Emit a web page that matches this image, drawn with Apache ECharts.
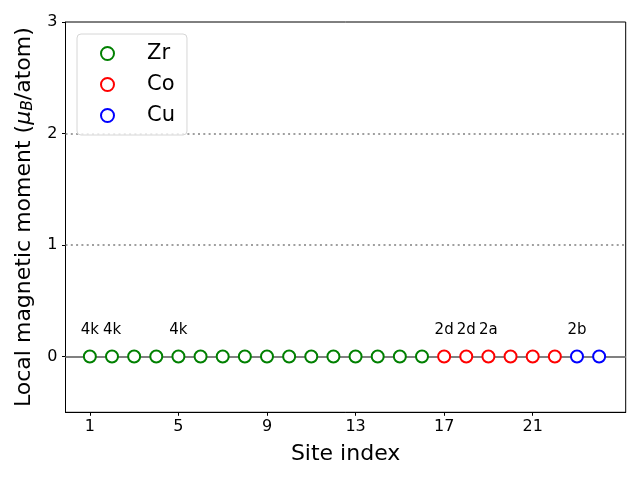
<!DOCTYPE html>
<html>
<head>
<meta charset="utf-8">
<script src="https://cdn.jsdelivr.net/npm/echarts@6/dist/echarts.min.js"></script>
<style>
html,body{margin:0;padding:0;background:#fff;}
#main{width:640px;height:480px;}
</style>
</head>
<body>
<div id="main"></div>
<script>
// ---- data ----
const zrSites = [1, 2, 3, 4, 5, 6, 7, 8, 9, 10, 11, 12, 13, 14, 15, 16];
const zrMoments = [0, 0, 0, 0, 0, 0, 0, 0, 0, 0, 0, 0, 0, 0, 0, 0];
const zrLabels = ['4k', '4k', '', '', '4k', '', '', '', '', '', '', '', '', '', '', ''];
const coSites = [17, 18, 19, 20, 21, 22];
const coMoments = [0, 0, 0, 0, 0, 0];
const coLabels = ['2d', '2d', '2a', '', '', ''];
const cuSites = [23, 24];
const cuMoments = [0, 0];
const cuLabels = ['2b', ''];
const xTicks = [1, 5, 9, 13, 17, 21];
const yTicks = [0, 1, 2, 3];
const refLinesDotted = [1, 2];
const refLineSolid = [0];

const FONT = 'DejaVu Sans';

function makeData(xs, ys, labels) {
  return xs.map((x, i) => ({
    value: [x, ys[i]],
    label: { show: labels[i] !== '', formatter: labels[i] }
  }));
}

function makeSeries(name, color, xs, ys, labels, extra) {
  return Object.assign({
    name: name,
    type: 'scatter',
    symbol: 'emptyCircle',
    symbolSize: 12,
    z: 5,
    itemStyle: { color: color, borderColor: color, borderWidth: 1.3, opacity: 1 },
    label: {
      position: 'top',
      distance: 12,
      color: '#000',
      opacity: 1,
      fontFamily: FONT,
      fontSize: 15
    },
    emphasis: { disabled: true },
    data: makeData(xs, ys, labels)
  }, extra || {});
}

const chart = echarts.init(document.getElementById('main'), null, { renderer: 'canvas' });

const option = {
  animation: false,
  backgroundColor: '#fff',
  textStyle: { fontFamily: FONT },
  grid: {
    left: 65.5, top: 22, right: 14.3, bottom: 67.7,
    containLabel: false,
    outerBoundsMode: 'none',
    show: true, borderColor: '#000', borderWidth: 1, backgroundColor: 'transparent'
  },
  legend: {
    orient: 'vertical',
    left: 77,
    top: 34,
    padding: [9, 12, 9, 23],
    itemWidth: 13,
    itemHeight: 13,
    itemGap: 10,
    backgroundColor: 'rgba(255,255,255,0.8)',
    borderColor: '#d6d6d6',
    borderWidth: 1,
    borderRadius: 4,
    textStyle: {
      fontFamily: FONT, fontSize: 21, color: '#000',
      lineHeight: 20, padding: [0, 0, 0, 28]
    },
    data: ['Zr', 'Co', 'Cu']
  },
  xAxis: {
    type: 'value',
    min: -0.1,
    max: 25.2,
    name: 'Site index',
    nameLocation: 'middle',
    nameGap: 31,
    nameTextStyle: { fontFamily: FONT, fontSize: 22, color: '#000' },
    axisLine: { show: true, onZero: false, lineStyle: { color: '#000', width: 1 } },
    axisTick: { show: true, length: 3.5, lineStyle: { color: '#000' }, customValues: xTicks },
    axisLabel: { color: '#000', fontFamily: FONT, fontSize: 16, margin: 7, customValues: xTicks },
    splitLine: { show: false }
  },
  yAxis: {
    type: 'value',
    min: -0.5,
    max: 3,
    name: 'Local magnetic moment ({mu|μ}{sub|B}/atom)',
    nameLocation: 'middle',
    nameRotate: 90,
    nameGap: 24,
    nameTextStyle: {
      fontFamily: FONT, fontSize: 22, color: '#000',
      rich: {
        mu: { fontFamily: FONT, fontStyle: 'italic', fontSize: 22, color: '#000' },
        sub: { fontFamily: FONT, fontStyle: 'italic', fontSize: 15.5, color: '#000', verticalAlign: 'bottom', padding: [8, 0, 0, 0] }
      }
    },
    axisLine: { show: true, onZero: false, lineStyle: { color: '#000', width: 1 } },
    axisTick: { show: true, length: 3.5, lineStyle: { color: '#000' }, customValues: yTicks },
    axisLabel: { color: '#000', fontFamily: FONT, fontSize: 16, margin: 8, customValues: yTicks },
    splitLine: { show: false }
  },
  series: [
    makeSeries('Zr', '#008000', zrSites, zrMoments, zrLabels, {
      markLine: {
        silent: true,
        symbol: 'none',
        z: 1,
        label: { show: false },
        data: refLinesDotted.map(v => ({ yAxis: v, lineStyle: { color: '#808080', type: [2, 3.3], width: 1.5, opacity: 1 } }))
          .concat(refLineSolid.map(v => ({ yAxis: v, lineStyle: { color: '#808080', type: 'solid', width: 2, opacity: 1 } })))
      }
    }),
    makeSeries('Co', '#ff0000', coSites, coMoments, coLabels),
    makeSeries('Cu', '#0000ff', cuSites, cuMoments, cuLabels)
  ]
};

chart.setOption(option);
</script>
</body>
</html>
